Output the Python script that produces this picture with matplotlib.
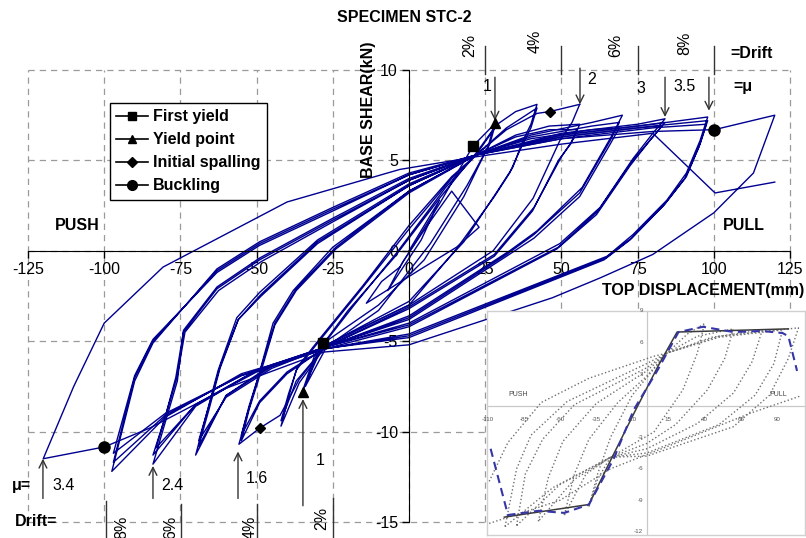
import matplotlib
matplotlib.use("Agg")
import matplotlib.pyplot as plt
from matplotlib.lines import Line2D

plt.rcParams['font.family'] = ['Liberation Sans', 'DejaVu Sans']
plt.rcParams['axes.unicode_minus'] = False

# ---- hysteresis path, split by displacement level (mm, kN) ----
lvl0_x = [0, 10, 4, -7, -2, 6, 14, 23, 15.6, 4, -14, -9, -3]
lvl0_y = [0, 2.8, 0.6, -2.2, -0.6, 1.4, 3.3, 1.3, 0.2, -1.0, -2.9, -1.7, -0.9]

lvl1_x = [-3, 10, 21, 28, 26, 18, 5, -10, -28, -35, -31, -20, -5, 10, 22, 28,
          26.5, 19, 7, -10, -27, -34, -30, -18, -4, 12, 22, 29]
lvl1_y = [-0.9, 2.6, 5.8, 7.0, 5.8, 3.0, -0.5, -3.0, -5.1, -7.8, -5.8, -3.3, -0.4, 2.9, 5.4, 6.8,
          5.9, 3.6, 0.4, -3.3, -5.3, -7.5, -5.6, -3.0, -0.1, 3.5, 5.3, 7.0]

lvl15_x = [29, 35, 42, 40, 37.4, 34, 29, 18, 0, -27, -36, -42, -39.5, -37, -29.5, -16, 0, 14, 22,
           32, 42, 40, 36.5, 33, 28, 16, 0, -27, -37, -42, -39.5, -36.5, -29, -15, 0, 14, 22,
           32, 42, 46.2, 56]
lvl15_y = [7.0, 7.7, 8.1, 7.0, 6.1, 4.6, 3.3, 0.5, -2.8, -5.2, -7.3, -9.7, -8.1, -6.6, -5.0, -2.2, 1.2, 4.0, 5.3,
           6.8, 7.9, 6.8, 5.6, 4.3, 3.0, 0.2, -3.0, -5.2, -7.2, -9.4, -7.9, -6.4, -4.8, -1.9, 1.4, 4.1, 5.3,
           6.7, 7.6, 7.7, 8.1]

lvl2_x = [56, 53.5, 49.5, 40.7, 27.6, 0, -27, -36, -42.3, -48.9, -55.8, -53, -50, -44.6, -38, -25, 0, 22,
          35, 46, 56, 54, 50, 41, 28, 0, -27, -40, -49, -55, -52.5, -49.5, -44, -37, -24, 0, 22,
          35, 46, 55, 53, 49, 40.5, 28, 0, -27, -40, -49, -55, -52.5, -49.5, -44, -37, -24, 0, 22]
lvl2_y = [8.1, 7.1, 6.1, 2.9, 0, -3.0, -5.2, -7.1, -9.1, -9.8, -10.7, -9.0, -7.3, -4.0, -2.2, 0.2, 3.3, 5.3,
          6.4, 6.9, 7.0, 6.2, 5.2, 2.4, -0.2, -3.1, -5.3, -6.8, -8.4, -10.5, -8.8, -7.2, -4.1, -2.2, 0.1, 3.2, 5.3,
          6.3, 6.7, 6.7, 5.9, 5.0, 2.2, -0.3, -3.2, -5.3, -6.7, -8.3, -10.2, -8.6, -7.0, -4.0, -2.1, 0.2, 3.3, 5.3]

lvl25_x = [22, 40, 60, 70, 67, 56.8, 42, 33, 0, -27, -45, -60, -70, -66.4, -62.6, -56.5, -49, -30, 0, 22,
           40, 60, 69, 66, 56, 41, 32, 0, -27, -45, -60, -69, -65.5, -62, -56, -48.5, -30, 0, 22,
           40, 60, 69, 66, 56, 41, 32, 0, -27, -45, -60, -69, -65.5, -62, -56, -48.5, -30, 0, 22]
lvl25_y = [5.3, 6.4, 7.1, 7.5, 6.5, 3.5, 1.1, 0, -3.6, -5.3, -6.3, -8.0, -11.3, -9.0, -6.6, -3.7, -2.3, 0.6, 3.7, 5.3,
           6.3, 6.9, 7.1, 6.1, 3.2, 0.9, -0.2, -3.7, -5.3, -6.4, -8.0, -10.8, -8.7, -6.5, -3.8, -2.4, 0.5, 3.6, 5.3,
           6.2, 6.7, 6.8, 5.9, 3.0, 0.7, -0.3, -3.8, -5.3, -6.5, -8.1, -10.5, -8.5, -6.4, -3.8, -2.5, 0.4, 3.6, 5.3]

lvl3_x = [22, 50, 75, 84, 80, 73.5, 62.7, 49.5, 0, -27, -50, -70, -84, -80, -76, -74, -63, -49, -25, 0, 22,
          50, 75, 84, 80, 73, 62, 49, 0, -27, -50, -70, -84, -80, -76.5, -74, -63, -49, -25, 0, 22,
          50, 75, 83, 79, 72.5, 61.5, 48.5, 0, -27, -50, -70, -83, -79.5, -76, -73.5, -62.5, -48.5, -25, 0, 22]
lvl3_y = [5.3, 6.5, 7.0, 7.3, 6.5, 5.1, 2.4, 0.4, -4.0, -5.3, -6.6, -8.6, -11.8, -9.5, -7.2, -4.4, -2.0, -0.4, 1.8, 4.0, 5.3,
          6.4, 6.9, 7.1, 6.3, 4.9, 2.2, 0.2, -4.1, -5.3, -6.6, -8.5, -11.3, -9.2, -7.0, -4.5, -2.1, -0.5, 1.7, 3.9, 5.3,
          6.3, 6.8, 6.9, 6.1, 4.7, 2.0, 0.1, -4.2, -5.4, -6.7, -8.5, -10.9, -8.9, -6.9, -4.5, -2.2, -0.6, 1.6, 3.9, 5.3]

lvl35_x = [22, 50, 80, 98, 95.5, 91, 84.6, 73.5, 65, 0, -27, -55, -80, -97.5, -90, -84, -63, -49, -25, 0, 22,
           50, 80, 98, 95.5, 91, 84, 73, 64.5, 0, -27, -55, -80, -97, -90, -84, -63, -49, -25, 0, 22,
           50, 80, 97.5, 95, 90.5, 83.5, 72.5, 64, 0, -27, -55, -80, -97, -90, -84, -63, -49, -25, 0, 22]
lvl35_y = [5.3, 6.4, 7.0, 7.4, 6.1, 4.3, 2.8, 0.9, -0.3, -4.6, -5.4, -6.8, -9.2, -12.2, -7.2, -5.1, -1.0, 0.5, 2.4, 4.3, 5.3,
           6.3, 6.9, 7.2, 5.9, 4.1, 2.6, 0.7, -0.4, -4.7, -5.4, -6.9, -9.1, -11.7, -7.0, -5.0, -1.1, 0.4, 2.3, 4.2, 5.3,
           6.2, 6.8, 7.0, 5.7, 4.0, 2.5, 0.6, -0.5, -4.8, -5.4, -6.9, -9.0, -11.2, -6.9, -4.9, -1.2, 0.3, 2.2, 4.2, 5.3]

lvlF_x = [22, 50, 80, 100.2, 120, 113, 100, 80, 62.7, 47, 0, -28, -60, -85, -100, -120,
          -110, -100, -80.7, -40, -3, 22, 50, 80, 100.4, 120]
lvlF_y = [5.3, 6.2, 6.6, 6.7, 7.5, 4.3, 2.1, -0.2, -1.5, -2.6, -5.2, -5.6, -7.6, -9.8, -10.85, -11.5,
          -7.5, -4.0, -0.9, 2.7, 4.5, 5.2, 5.9, 6.5, 3.2, 3.8]

levels = [(lvl0_x, lvl0_y), (lvl1_x, lvl1_y), (lvl15_x, lvl15_y), (lvl2_x, lvl2_y),
          (lvl25_x, lvl25_y), (lvl3_x, lvl3_y), (lvl35_x, lvl35_y), (lvlF_x, lvlF_y)]

# ---- damage markers ----
first_yield_x, first_yield_y = [20.9, -28.1], [5.8, -5.1]
yield_x, yield_y = [28.2, -34.9], [7.05, -7.8]
spall_x, spall_y = [46.2, -48.9], [7.7, -9.8]
buckl_x, buckl_y = [100.2, -100.0], [6.7, -10.85]

# ---- annotations ----
drift_top_x = [25, 50, 75, 100]
drift_top_lbl = ['2%', '4%', '6%', '8%']
drift_top_lbl_x = [20.0, 41.3, 67.9, 90.5]
drift_top_lbl_y = [11.35, 11.6, 11.35, 11.5]
mu_top = ['1', '2', '3', '3.5']
mu_top_x = [25.6, 60.0, 76.1, 90.5]
mu_top_y = [9.1, 9.5, 9.0, 9.1]
arrow_top_x = [28.2, 56.1, 84.0, 98.4]
arrow_top_from = [9.6, 10.1, 9.6, 9.6]
arrow_top_to = [7.2, 8.1, 7.4, 7.75]

drift_bot_x = [-99.4, -74.8, -49.9, -24.9]
drift_bot_from = [-13.85, -14.0, -14.0, -13.7]
drift_bot_lbl = ['8%', '6%', '4%', '2%']
drift_bot_lbl_x = [-94.2, -78.1, -52.2, -28.5]
drift_bot_lbl_y = [-15.3, -15.3, -15.3, -14.8]
mu_bot = ['3.4', '2.4', '1.6', '1']
mu_bot_x = [-113.2, -77.7, -49.9, -29.2]
mu_bot_y = [-13.0, -13.0, -12.6, -11.6]
arrow_bot_x = [-120.1, -84.0, -56.1, -34.8]
arrow_bot_from = [-13.7, -13.7, -13.7, -14.1]
arrow_bot_to = [-11.5, -11.9, -11.1, -8.2]

xticks = [-125, -100, -75, -50, -25, 0, 25, 50, 75, 100, 125]
yticks = [-15, -10, -5, 0, 5, 10]

# ---- inset (other model) ----
ins_l1_x = [-40, -34, -25, -10, 14, 28, 40, 35, 25, 5, -25, -34, -40]
ins_l1_y = [-9.6, -6.5, -3.0, 1.0, 5.0, 6.8, 7.8, 5.0, 1.5, -2.5, -4.9, -7.0, -9.6]
ins_l2_x = [-57, -50, -40, -20, 0, 14, 35, 60, 54, 42, 20, 0, -25, -42, -57]
ins_l2_y = [-10.4, -6.5, -3.2, 0.3, 2.8, 5.0, 6.6, 7.3, 4.5, 1.5, -1.8, -3.6, -4.9, -6.5, -10.4]
ins_l3_x = [-75, -68, -58, -35, 0, 14, 45, 80, 73, 60, 35, 0, -25, -50, -75]
ins_l3_y = [-11.0, -6.8, -3.4, 0.2, 3.3, 5.0, 6.5, 7.2, 4.2, 1.2, -1.7, -4.1, -4.9, -7.0, -11.0]
ins_l4_x = [-90, -84, -72, -50, 0, 14, 50, 94, 88, 75, 50, 0, -25, -60, -90]
ins_l4_y = [-11.4, -6.5, -3.2, 0.1, 3.6, 5.0, 6.5, 7.2, 4.0, 1.0, -1.8, -4.5, -4.9, -7.5, -11.4]
ins_l5_x = [-98, -90, -80, -55, 0, 14, 50, 105, 98, 85, 60, 0, -25, -65, -98]
ins_l5_y = [-11.5, -6.0, -2.8, 0.4, 4.0, 5.0, 6.6, 7.4, 4.5, 1.0, -2.0, -4.8, -4.9, -7.8, -11.5]
ins_outa_x = [-109, -96, -73, -40, 5, 14]
ins_outa_y = [-7.2, -3.5, 0.3, 2.6, 4.7, 5.0]
ins_outb_x = [-109, -60, -25, 14, 72, 106]
ins_outb_y = [-11.2, -9.0, -6.0, -3.9, -0.7, 0.9]
ins_solid_x = [-98.5, -40, -25, -8, 8, 21, 98]
ins_solid_y = [-10.6, -9.4, -5.2, -0.5, 3.8, 7.0, 7.3]
ins_env_x = [-108, -96, -75, -57, -40, -23, -9, 7.6, 14, 22, 39, 60, 80, 94, 98, 104]
ins_env_y = [-4.1, -10.4, -10.0, -10.2, -9.4, -5.1, -0.4, 3.4, 5.0, 7.0, 7.5, 7.0, 7.1, 6.9, 6.6, 3.3]
ins_xticks = [-110, -85, -60, -35, -10, 15, 40, 65, 90]
ins_yticks = [-12, -9, -6, -3, 3, 6, 9]

LINE = '#000090'
FS = 11.5

fig = plt.figure(figsize=(8.06, 5.38), dpi=100)
ax = fig.add_axes([28 / 806, 16 / 538, 762 / 806, 452 / 538])
ax.set_xlim(-125, 125)
ax.set_ylim(-15, 10)

for lx, ly in levels:
    ax.plot(lx, ly, color=LINE, lw=1.0, zorder=3)

ax.plot(first_yield_x, first_yield_y, 's', color='k', ms=6.5, zorder=5)
ax.plot(yield_x, yield_y, '^', color='k', ms=7, zorder=5)
ax.plot(spall_x, spall_y, 'D', color='k', ms=5, zorder=5)
ax.plot(buckl_x, buckl_y, 'o', color='k', ms=8, zorder=5)

# axes through origin
for s in ['top', 'right']:
    ax.spines[s].set_visible(False)
ax.spines['left'].set_position(('data', 0))
ax.spines['bottom'].set_position(('data', 0))
ax.spines['left'].set_zorder(4)
ax.spines['bottom'].set_zorder(4)
ax.set_xticks(xticks)
ax.set_yticks(yticks)
ax.tick_params(axis='both', direction='out', length=5, width=1, labelsize=FS, pad=3)
ax.grid(True, ls=(0, (5, 4)), color='#9a9a9a', lw=0.9, zorder=1)
for gl in ax.get_xgridlines() + ax.get_ygridlines():
    gl.set_clip_on(False)

bold = dict(fontweight='bold', fontsize=FS)
ax.text(-1.5, 12.9, 'SPECIMEN STC-2', ha='center', va='center', **bold)
ax.text(-13.4, 7.8, 'BASE SHEAR(kN)', rotation=90, ha='center', va='center', **bold)
ax.text(129.8, -2.2, 'TOP DISPLACEMENT(mm)', ha='right', va='center', **bold)
ax.text(-109, 1.4, 'PUSH', ha='center', va='center', **bold)
ax.text(110, 1.4, 'PULL', ha='center', va='center', **bold)

# top drift / ductility marks
for x in drift_top_x:
    ax.plot([x, x], [9.8, 11.35], color='#333333', lw=1.0, clip_on=False)
for t, x, y in zip(drift_top_lbl, drift_top_lbl_x, drift_top_lbl_y):
    ax.text(x, y, t, rotation=90, ha='center', va='center', fontsize=FS)
for t, x, y in zip(mu_top, mu_top_x, mu_top_y):
    ax.text(x, y, t, ha='center', va='center', fontsize=FS)
for x, y0, y1 in zip(arrow_top_x, arrow_top_from, arrow_top_to):
    ax.annotate('', xy=(x, y1), xytext=(x, y0), annotation_clip=False,
                arrowprops=dict(arrowstyle='->', color='#333333', lw=1.0,
                                shrinkA=0, shrinkB=0, mutation_scale=14))
ax.text(105.3, 10.9, '=Drift', ha='left', va='center', **bold)
ax.text(106.3, 9.1, '=μ', ha='left', va='center', **bold)

# bottom drift / ductility marks
for x, y0 in zip(drift_bot_x, drift_bot_from):
    ax.plot([x, x], [y0, -15.9], color='#333333', lw=1.0, clip_on=False)
for t, x, y in zip(drift_bot_lbl, drift_bot_lbl_x, drift_bot_lbl_y):
    ax.text(x, y, t, rotation=90, ha='center', va='center', fontsize=FS)
for t, x, y in zip(mu_bot, mu_bot_x, mu_bot_y):
    ax.text(x, y, t, ha='center', va='center', fontsize=FS)
for x, y0, y1 in zip(arrow_bot_x, arrow_bot_from, arrow_bot_to):
    ax.annotate('', xy=(x, y1), xytext=(x, y0), annotation_clip=False,
                arrowprops=dict(arrowstyle='->', color='#333333', lw=1.0,
                                shrinkA=0, shrinkB=0, mutation_scale=14))
ax.text(-130.2, -13.0, 'μ=', ha='left', va='center', **bold)
ax.text(-129.3, -14.95, 'Drift=', ha='left', va='center', **bold)

handles = [Line2D([0], [0], color='k', lw=1.2, marker='s', ms=6),
           Line2D([0], [0], color='k', lw=1.2, marker='^', ms=6),
           Line2D([0], [0], color='k', lw=1.2, marker='D', ms=5),
           Line2D([0], [0], color='k', lw=1.2, marker='o', ms=7)]
labels = ['First yield', 'Yield point', 'Initial spalling', 'Buckling']
leg = ax.legend(handles, labels, loc='upper left', bbox_to_anchor=(0.1076, 0.927),
                borderaxespad=0, fancybox=False, edgecolor='k', framealpha=1,
                borderpad=0.4, labelspacing=0.5, handlelength=2.0, handletextpad=0.3,
                prop=dict(weight='bold', size=FS))
leg.get_frame().set_linewidth(1.0)
leg.set_zorder(6)

# ---- inset ----
axi = fig.add_axes([487 / 806, 3 / 538, 318 / 806, 224 / 538])
axi.set_zorder(10)
axi.set_facecolor('white')
axi.set_xlim(-110.5, 109.5)
axi.set_ylim(-12.3, 9.0)
axi.set_xticks([])
axi.set_yticks([])
for s in axi.spines.values():
    s.set_color('#d0d0d0')
    s.set_linewidth(1.0)
axi.axhline(0, color='#c8c8c8', lw=0.9)
axi.axvline(0, color='#c8c8c8', lw=0.9)
for lx, ly in [(ins_l1_x, ins_l1_y), (ins_l2_x, ins_l2_y), (ins_l3_x, ins_l3_y),
               (ins_l4_x, ins_l4_y), (ins_l5_x, ins_l5_y), (ins_outa_x, ins_outa_y),
               (ins_outb_x, ins_outb_y)]:
    axi.plot(lx, ly, ls=':', color='#707070', lw=1.0)
axi.plot(ins_solid_x, ins_solid_y, color='#3a3a3a', lw=1.1)
axi.plot(ins_env_x, ins_env_y, color='#3535a8', lw=1.5, dashes=(4, 2.5))
for t in ins_xticks:
    axi.text(t, -1.35, str(t), ha='center', va='center', fontsize=4.5, color='#555555')
for t in ins_yticks:
    axi.text(-2.5, t, str(t), ha='right', va='center', fontsize=4.5, color='#555555')
axi.text(-89, 1.05, 'PUSH', ha='center', va='center', fontsize=5, color='#444444')
axi.text(91, 1.05, 'PULL', ha='center', va='center', fontsize=5, color='#444444')

fig.savefig('out.png', dpi=100)
